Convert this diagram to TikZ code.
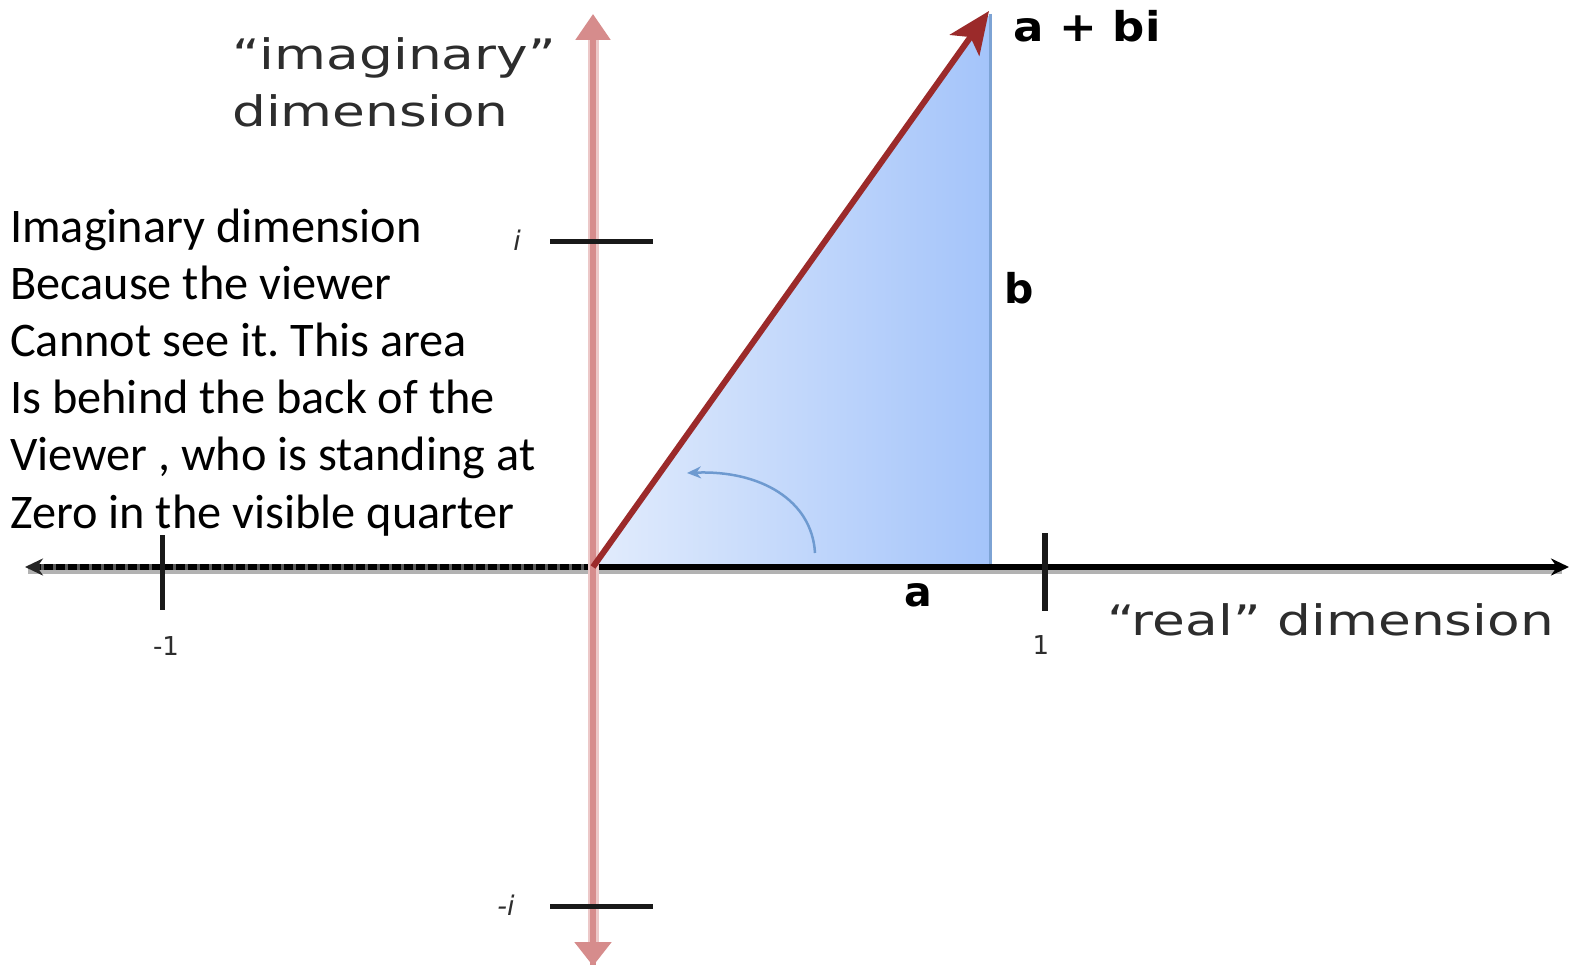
\documentclass[tikz,border=0pt]{standalone}
\usepackage{fontspec}
\setmainfont{Carlito}
\newfontfamily\lblfont{DejaVu Sans}
\usetikzlibrary{arrows.meta}
\definecolor{pinkaxis}{RGB}{214,140,140}
\definecolor{pinkhalo}{RGB}{236,200,200}
\definecolor{redvec}{RGB}{155,42,42}
\definecolor{blueL}{RGB}{226,236,252}
\definecolor{blueR}{RGB}{164,196,250}
\definecolor{blueedge}{RGB}{125,163,212}
\definecolor{arcblue}{RGB}{110,154,208}
\definecolor{lblgray}{RGB}{45,45,45}
\frenchspacing
\tikzset{
  bodytext/.style={anchor=base west, inner sep=0pt, font=\fontsize{48.3}{56}\selectfont},
  lbl/.style={inner sep=0pt, text=lblgray, font=\lblfont\fontsize{42}{50}\selectfont},
  lblbold/.style={inner sep=0pt, text=black, font=\lblfont\bfseries\fontsize{41}{48}\selectfont},
  ticklbl/.style={inner sep=0pt, text=lblgray, font=\lblfont\fontsize{26}{30}\selectfont},
  tickmark/.style={line width=5pt, black!90},
}
\begin{document}
\begin{tikzpicture}[x=1pt,y=-1pt]
\useasboundingbox[fill=white] (0,0) rectangle (1575,965);
% coordinates
\coordinate (O) at (593,567);
\coordinate (P) at (990,14);
\coordinate (Q) at (990,567);
\coordinate (L) at (25,567);
\coordinate (R) at (1569,567);
\coordinate (T) at (593,14);
\coordinate (B) at (593,966);
% triangle
\shade[left color=blueL, right color=blueR] (O) -- (P) -- (Q) -- cycle;
\draw[line width=3pt, blueedge] (P) -- (Q);
\draw[line width=2.5pt, blueedge] (O) -- (Q);
% horizontal axis
\draw[line width=8pt, black!30] (28,570) -- (1562,570);
\draw[line width=5.5pt, black!65] (O) -- (40,567);
\draw[line width=5.5pt, black, dash pattern=on 9pt off 3pt] (O) -- (40,567);
\draw[line width=5.5pt, black, -{Stealth[length=18pt,width=17pt]}] (O) -- (R);
\draw[line width=5.5pt, black!85, -{Stealth[length=18pt,width=17pt]}] (40,567) -- (L);
% ticks
\draw[tickmark] (162,535) -- (162,610);
\draw[tickmark, line width=6pt] (1045,533) -- (1045,611);
% vertical axis
\draw[line width=11pt, pinkhalo] (593,40) -- (593,945);
\draw[line width=5.5pt, pinkaxis, -{Triangle[length=26pt,width=34pt]}] (B) -- (T);
\draw[line width=5.5pt, pinkaxis, -{Triangle[length=24pt,width=36pt]}] (593,900) -- (B);
% i ticks
\draw[line width=5pt, black!90] (550,242) -- (653,242);
\draw[line width=5pt, black!90] (550,906) -- (653,906);
% vector
\draw[line width=6pt, redvec, -{Stealth[length=42pt,width=36pt,inset=10pt]}] (O) -- (989,11);
% angle arc
\draw[line width=2.5pt, arcblue, -{Stealth[length=14pt,width=12pt]}] (815,553) .. controls (812,500) and (760,470) .. (687,473);
% labels
\node[lblbold, anchor=base west] (abi) at (1013,42) {\scalebox{1.1}[1]{a + bi}};
\node[lblbold] (lb) at (1019,288) {b};
\node[lblbold] (la) at (918,595) {a};
\node[lbl, anchor=base west] (im1) at (232,70) {\scalebox{1.27}[1]{“imaginary”}};
\node[lbl, anchor=base west] (im2) at (232,127) {\scalebox{1.27}[1]{dimension}};
\node[lbl, anchor=base west] (re) at (1107,635) {\scalebox{1.27}[1]{“real” dimension}};
\node[ticklbl] (m1) at (166,646) {-1};
\node[ticklbl] (p1) at (1041,645) {1};
\node[ticklbl, font=\lblfont\itshape\fontsize{27}{30}\selectfont] (ii) at (517,240) {i};
\node[ticklbl, font=\lblfont\itshape\fontsize{27}{30}\selectfont] (mi) at (506,905) {-i};
% left text
\node[bodytext] (l1) at (10,243) {Imaginary dimension};
\node[bodytext] (l2) at (10,300) {Because the viewer};
\node[bodytext] (l3) at (10,357) {Cannot see it. This area};
\node[bodytext] (l4) at (10,414) {Is behind the back of the};
\node[bodytext] (l5) at (10,471) {Viewer , who is standing at};
\node[bodytext] (l6) at (10,528) {Zero in the visible quarter};
\end{tikzpicture}
\end{document}
